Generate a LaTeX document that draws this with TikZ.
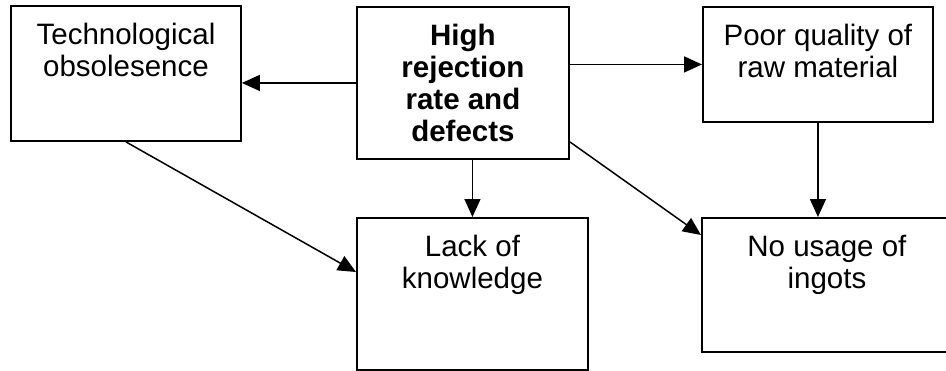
\documentclass[tikz,border=0pt]{standalone}
\usepackage{fontspec}
\setmainfont{Liberation Sans}
\usetikzlibrary{arrows.meta,calc}

% text block of a box: top-aligned, centred lines
\newcommand\boxlines[3]{\parbox[t][#2][t]{#1}{\centering\vspace*{16pt}\strut #3}}

\begin{document}
\begin{tikzpicture}[x=1pt,y=-1pt,
  causebox/.style={draw=black,line width=1.9pt,inner sep=0pt,anchor=north west,
    font=\fontsize{29.5}{32}\selectfont},
  arr/.style={line width=1.5pt,-{Triangle[length=18pt,width=16pt]}}]
  \clip (0,0) rectangle (946,370);
  \fill[white] (0,0) rectangle (946,370);

  \node[causebox] (tech) at (10,5)
    {\boxlines{230pt}{135pt}{Technological\\obsolesence}};
  \node[causebox,font=\fontsize{29.5}{32}\selectfont\bfseries] (high) at (356,6)
    {\boxlines{212pt}{152pt}{High\\rejection\\rate and\\defects}};
  \node[causebox] (poor) at (702,6)
    {\boxlines{230pt}{115pt}{Poor quality of\\raw material}};
  \node[causebox] (lack) at (356,217)
    {\boxlines{231pt}{152pt}{Lack of\\knowledge}};
  \node[causebox] (nouse) at (701,217)
    {\boxlines{250pt}{134pt}{No usage of\\ingots}};

  \draw[arr] (high.west) -- (tech.east |- high.west);
  \draw[arr] (high.east |- poor.west) -- (poor.west);
  \draw[arr] (lack.north |- high.south) -- (lack.north);
  \draw[arr] (poor.south) -- (poor.south |- nouse.north);
  \draw[arr] (tech.south) -- ($(lack.north west)+(0,55)$);
  \draw[arr] ($(high.south east)+(0,-18)$) -- ($(nouse.north west)+(0,18)$);
\end{tikzpicture}
\end{document}
